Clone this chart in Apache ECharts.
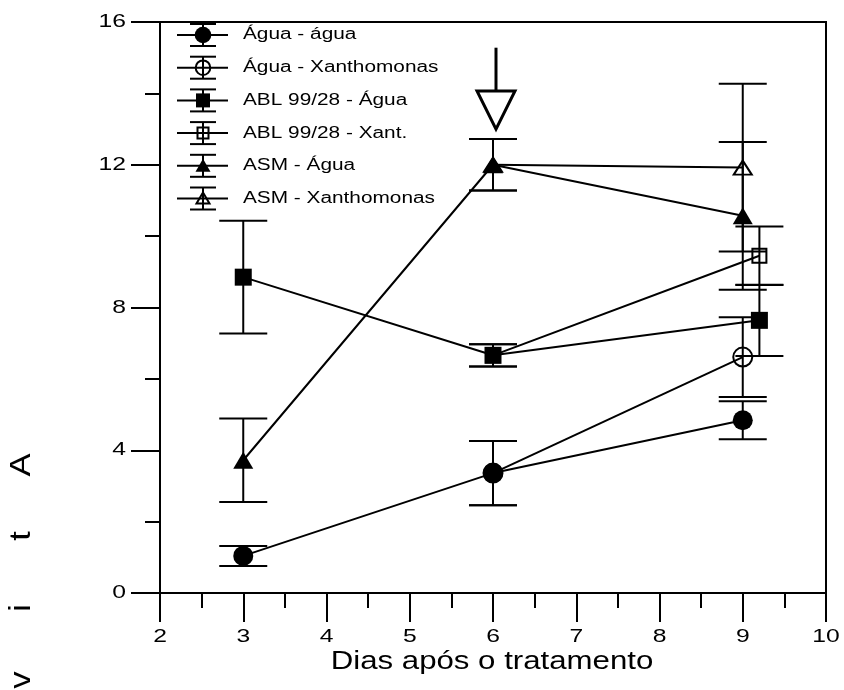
<!DOCTYPE html>
<html>
<head>
<meta charset="utf-8">
<script src="https://cdn.jsdelivr.net/npm/echarts@6/dist/echarts.min.js"></script>
<style>
  html, body { margin: 0; padding: 0; background: #fff; }
  #chart { width: 844px; height: 690px; }
</style>
</head>
<body>
<div id="chart"></div>
<script>
// Axis ticks
const xTicks = [2, 3, 4, 5, 6, 7, 8, 9, 10];
const yTicks = [0, 4, 8, 12, 16];
const xTitle = 'Dias após o tratamento';
const sideLetters = ['A', 't', 'i', 'v'];

// Series names (legend order)
const seriesNames = ['Água - água', 'Água - Xanthomonas', 'ABL 99/28 - Água',
                     'ABL 99/28 - Xant.', 'ASM - Água', 'ASM - Xanthomonas'];

// Means and standard errors per day
const aguaAguaDays = [3, 6, 9];
const aguaAguaMean = [1.04, 3.36, 4.84];
const aguaAguaErr  = [0.28, 0.90, 0.53];

const aguaXanDays = [6, 9];
const aguaXanMean = [3.36, 6.61];
const aguaXanErr  = [0.90, 1.12];

const ablAguaDays = [3, 6, 9.2];
const ablAguaMean = [8.85, 6.66, 7.64];
const ablAguaErr  = [1.58, 0.31, 1.00];

const ablXanDays = [6, 9.2];
const ablXanMean = [6.66, 9.45];
const ablXanErr  = [0.31, 0.82];

const asmAguaDays = [3, 6, 9];
const asmAguaMean = [3.72, 12.00, 10.57];
const asmAguaErr  = [1.17, 0.72, 2.07];

const asmXanDays = [6, 9];
const asmXanMean = [12.00, 11.92];
const asmXanErr  = [0.72, 2.35];

// Inoculation day marker
const inoculationDay = 6;

const FONT = "'Liberation Sans', Arial, sans-serif";
const TEXT_STRETCH = 1.3;

const groups = [
  { name: seriesNames[0], days: aguaAguaDays, mean: aguaAguaMean, err: aguaAguaErr, shape: 'circle',   filled: true },
  { name: seriesNames[1], days: aguaXanDays,  mean: aguaXanMean,  err: aguaXanErr,  shape: 'circle',   filled: false },
  { name: seriesNames[2], days: ablAguaDays,  mean: ablAguaMean,  err: ablAguaErr,  shape: 'rect',     filled: true },
  { name: seriesNames[3], days: ablXanDays,   mean: ablXanMean,   err: ablXanErr,   shape: 'rect',     filled: false },
  { name: seriesNames[4], days: asmAguaDays,  mean: asmAguaMean,  err: asmAguaErr,  shape: 'triangle', filled: true },
  { name: seriesNames[5], days: asmXanDays,   mean: asmXanMean,   err: asmXanErr,   shape: 'triangle', filled: false }
];

function symbolSizeFor(shape, filled) {
  if (shape === 'circle') return filled ? 20 : 19;
  if (shape === 'rect') return filled ? 17 : 14;
  return filled ? [20, 17] : [18, 14];
}

const CAP = 24;
function renderErrorBar(params, api) {
  const x = api.value(0), y = api.value(1), e = api.value(2);
  const top = api.coord([x, y + e]);
  const bot = api.coord([x, y - e]);
  const ls = { stroke: '#000', lineWidth: 2 };
  return {
    type: 'group',
    children: [
      { type: 'line', shape: { x1: top[0], y1: top[1], x2: bot[0], y2: bot[1] }, style: ls },
      { type: 'line', shape: { x1: top[0] - CAP, y1: top[1], x2: top[0] + CAP, y2: top[1] }, style: ls },
      { type: 'line', shape: { x1: bot[0] - CAP, y1: bot[1], x2: bot[0] + CAP, y2: bot[1] }, style: ls }
    ]
  };
}

const series = [];
groups.forEach(g => {
  const pts = g.days.map((d, i) => [d, g.mean[i], g.err[i]]);
  series.push({
    type: 'custom',
    name: g.name + ' (erro)',
    renderItem: renderErrorBar,
    data: pts,
    z: 3,
    silent: true
  });
  series.push({
    type: 'line',
    name: g.name,
    data: pts.map(p => [p[0], p[1]]),
    symbol: g.shape,
    symbolSize: symbolSizeFor(g.shape, g.filled),
    showAllSymbol: true,
    lineStyle: { color: '#000', width: 2 },
    itemStyle: g.filled
      ? { color: '#000', borderColor: '#000', borderWidth: 0 }
      : { color: 'rgba(0,0,0,0)', borderColor: '#000', borderWidth: 2 },
    z: 4,
    silent: true
  });
});

const chart = echarts.init(document.getElementById('chart'), null, { renderer: 'canvas' });

const axisCommon = {
  type: 'value',
  axisLine: { show: true, onZero: false, lineStyle: { color: '#000', width: 2 } },
  axisTick: { show: true, inside: false, length: 29, lineStyle: { color: '#000', width: 2 } },
  minorTick: { show: true, splitNumber: 2, length: 15, lineStyle: { color: '#000', width: 2 } },
  axisLabel: { show: false },
  splitLine: { show: false },
  minorSplitLine: { show: false }
};

chart.setOption({
  animation: false,
  backgroundColor: '#fff',
  grid: { left: 160, right: 18, top: 22, bottom: 97, show: true, borderColor: '#000', borderWidth: 2, backgroundColor: 'transparent' },
  xAxis: Object.assign({}, axisCommon, { min: 2, max: 10, interval: 1 }),
  yAxis: Object.assign({}, axisCommon, { min: 0, max: 16, interval: 4 }),
  series: series
});

// Texts, legend and arrow placed through the axis scales
const graphics = [];
const origin = chart.convertToPixel({ gridIndex: 0 }, [2, 0]);
const axisX = origin[0], axisY = origin[1];

xTicks.forEach(t => {
  const p = chart.convertToPixel({ gridIndex: 0 }, [t, 0]);
  graphics.push({
    type: 'text', x: p[0], y: axisY + 44, scaleX: TEXT_STRETCH,
    style: { text: String(t), font: '19px ' + FONT, fill: '#000',
             textAlign: 'center', textVerticalAlign: 'middle', align: 'center', verticalAlign: 'middle' }
  });
});
yTicks.forEach(t => {
  const p = chart.convertToPixel({ gridIndex: 0 }, [2, t]);
  graphics.push({
    type: 'text', x: axisX - 34, y: p[1], scaleX: TEXT_STRETCH,
    style: { text: String(t), font: '19px ' + FONT, fill: '#000',
             textAlign: 'right', textVerticalAlign: 'middle', align: 'right', verticalAlign: 'middle' }
  });
});

graphics.push({
  type: 'text', x: 492, y: 662, scaleX: 1.2,
  style: { text: xTitle, font: '26px ' + FONT, fill: '#000',
           textAlign: 'center', textVerticalAlign: 'middle', align: 'center', verticalAlign: 'middle' }
});

const letterY = [465, 536, 608, 680];
sideLetters.forEach((ch, i) => {
  graphics.push({
    type: 'text', x: 22, y: letterY[i], rotation: Math.PI / 2, scaleX: 1.15,
    style: { text: ch, font: '30px ' + FONT, fill: '#000',
             textAlign: 'center', textVerticalAlign: 'middle', align: 'center', verticalAlign: 'middle' }
  });
});

// Legend with error-bar glyphs
const legX = 203, legY0 = 35, legStep = 32.7;
groups.forEach((g, i) => {
  const cy = legY0 + i * legStep;
  const ls = { stroke: '#000', lineWidth: 2 };
  graphics.push({ type: 'line', shape: { x1: legX - 26, y1: cy, x2: legX + 25, y2: cy }, style: ls });
  graphics.push({ type: 'line', shape: { x1: legX, y1: cy - 11, x2: legX, y2: cy + 11 }, style: ls });
  graphics.push({ type: 'line', shape: { x1: legX - 13, y1: cy - 11, x2: legX + 13, y2: cy - 11 }, style: ls });
  graphics.push({ type: 'line', shape: { x1: legX - 13, y1: cy + 11, x2: legX + 13, y2: cy + 11 }, style: ls });
  const st = g.filled ? { fill: '#000', stroke: '#000', lineWidth: 0 } : { fill: 'none', stroke: '#000', lineWidth: 2 };
  if (g.shape === 'circle') {
    graphics.push({ type: 'circle', shape: { cx: legX, cy: cy, r: g.filled ? 8.3 : 7.3 }, style: st });
  } else if (g.shape === 'rect') {
    const s = g.filled ? 14 : 11;
    graphics.push({ type: 'rect', shape: { x: legX - s / 2, y: cy - s / 2, width: s, height: s }, style: st });
  } else {
    const w = g.filled ? 15 : 13, h = g.filled ? 12 : 10;
    graphics.push({ type: 'polygon', shape: { points: [[legX, cy - h / 2 - 1], [legX + w / 2, cy + h / 2], [legX - w / 2, cy + h / 2]] }, style: st });
  }
  graphics.push({
    type: 'text', x: 243, y: cy, scaleX: TEXT_STRETCH,
    style: { text: g.name, font: '16px ' + FONT, fill: '#000',
             textAlign: 'left', textVerticalAlign: 'middle', align: 'left', verticalAlign: 'middle' }
  });
});

// Downward arrow over the inoculation day
const shaftTop = chart.convertToPixel({ gridIndex: 0 }, [inoculationDay, 15.28]);
const headTop = chart.convertToPixel({ gridIndex: 0 }, [inoculationDay, 14.07]);
const headTip = chart.convertToPixel({ gridIndex: 0 }, [inoculationDay, 13.0]);
const ax = shaftTop[0] + 3;
graphics.push({ type: 'line', shape: { x1: ax, y1: shaftTop[1], x2: ax, y2: headTop[1] }, style: { stroke: '#000', lineWidth: 3 } });
graphics.push({
  type: 'polygon',
  shape: { points: [[ax - 19, headTop[1]], [ax + 19, headTop[1]], [ax, headTip[1]]] },
  style: { fill: '#fff', stroke: '#000', lineWidth: 3, lineJoin: 'miter' }
});

chart.setOption({ graphic: { elements: graphics } });
</script>
</body>
</html>
